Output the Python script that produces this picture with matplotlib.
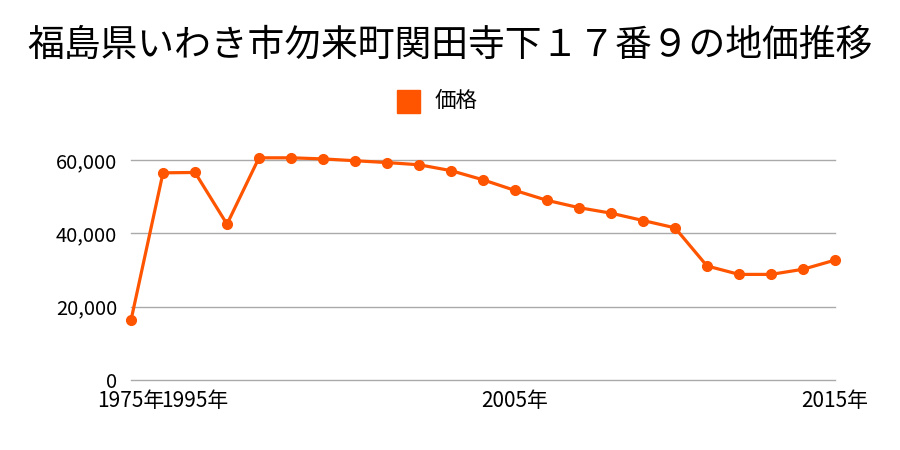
import matplotlib
matplotlib.use("Agg")
import matplotlib.pyplot as plt
import matplotlib.patches as mpatches

plt.rcParams['font.family'] = ['Noto Sans CJK JP', 'DejaVu Sans']

years = ["1975", "1994", "1995", "1996", "1997", "1998", "1999", "2000", "2001",
         "2002", "2003", "2004", "2005", "2006", "2007", "2008", "2009", "2010",
         "2011", "2012", "2013", "2014", "2015"]
prices = [16300, 56500, 56600, 42500, 60600, 60600, 60300, 59800, 59300,
          58700, 57100, 54600, 51700, 49000, 47000, 45500, 43500, 41500,
          31100, 28800, 28800, 30200, 32700]
shown_years = ["1975", "1995", "2005", "2015"]
yticks = [0, 20000, 40000, 60000]

fig = plt.figure(figsize=(9, 4.5), dpi=100)
ax = fig.add_axes([131/900, 1-380/450, (835-131)/900, 220/450])

x = list(range(len(years)))
ax.plot(x, prices, color='#FF5500', lw=2.3, marker='o', ms=7, clip_on=False, zorder=3)

ax.set_xlim(0, len(years)-1)
ax.set_ylim(0, 60000)
ax.set_yticks(yticks)
ax.set_yticklabels([f"{v:,}" for v in yticks], fontsize=14.5)
xt = [years.index(y) for y in shown_years]
ax.set_xticks(xt)
ax.set_xticklabels([y + "年" for y in shown_years], fontsize=15)
ax.tick_params(length=0)
ax.tick_params(axis='y', pad=10)
ax.tick_params(axis='x', pad=7)
for v in yticks:
    ax.axhline(v, color='#aaaaaa', lw=1, clip_on=False, zorder=1)
for s in ax.spines.values():
    s.set_visible(False)

fig.text(0.5, 1-45/450, "福島県いわき市勿来町関田寺下１７番９の地価推移",
         ha='center', va='center', fontsize=26.5)

fig.patches.append(mpatches.Rectangle((397/900, 1-113/450), 23/900, 23/450,
                                      transform=fig.transFigure, color='#FF5500'))
fig.text(435/900, 1-101/450, "価格", ha='left', va='center', fontsize=15.5)

fig.savefig("out.png", dpi=100)
